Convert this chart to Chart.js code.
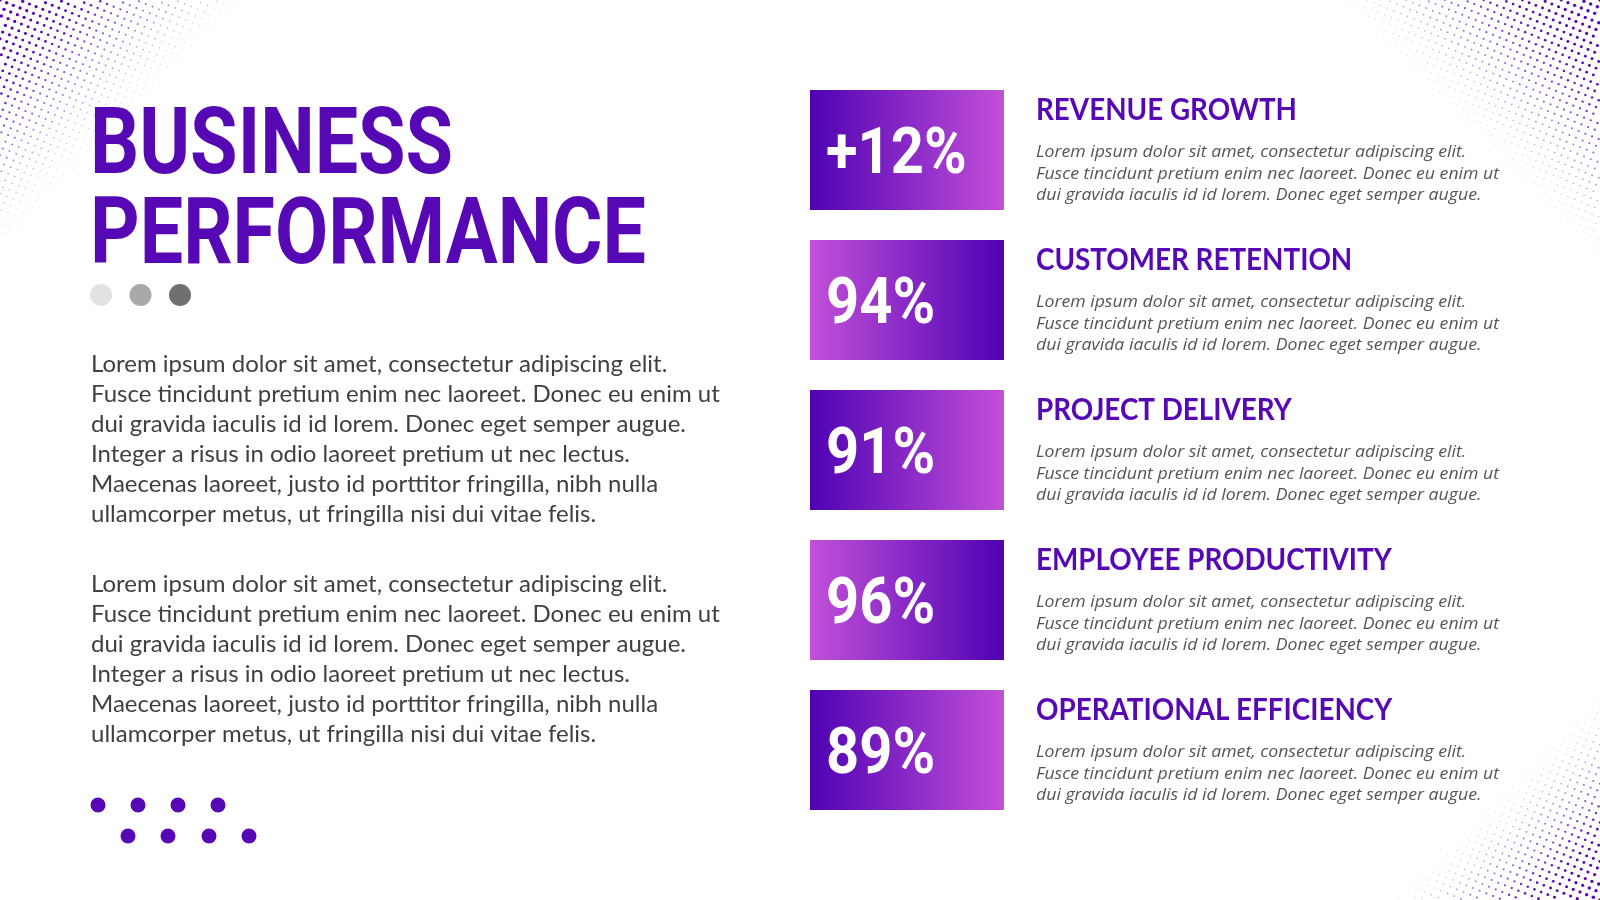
<!DOCTYPE html>
<html>
<head>
<meta charset="utf-8">
<title>Business Performance</title>
<script src="https://cdn.jsdelivr.net/npm/chart.js@4.4.1/dist/chart.umd.min.js"></script>
<style>
    html, body { margin: 0; padding: 0; background: #ffffff; }
    #wrap { width: 1600px; height: 900px; position: relative; }
</style>
</head>
<body>
<div id="wrap"><canvas id="perfChart"></canvas></div>
<script>
// data
const categories = ['REVENUE GROWTH', 'CUSTOMER RETENTION', 'PROJECT DELIVERY', 'EMPLOYEE PRODUCTIVITY', 'OPERATIONAL EFFICIENCY'];
const values = [12, 94, 91, 96, 89];
const valuePrefix = ['+', '', '', '', ''];
const blurbLines = [
    'Lorem ipsum dolor sit amet, consectetur adipiscing elit.',
    'Fusce tincidunt pretium enim nec laoreet. Donec eu enim ut',
    'dui gravida iaculis id id lorem. Donec eget semper augue.'
];
const bodyLines = [
    'Lorem ipsum dolor sit amet, consectetur adipiscing elit.',
    'Fusce tincidunt pretium enim nec laoreet. Donec eu enim ut',
    'dui gravida iaculis id id lorem. Donec eget semper augue.',
    'Integer a risus in odio laoreet pretium ut nec lectus.',
    'Maecenas laoreet, justo id porttitor fringilla, nibh nulla',
    'ullamcorper metus, ut fringilla nisi dui vitae felis.'
];
const titleLines = ['BUSINESS', 'PERFORMANCE'];

const PURPLE = '#5608b4';
const DARK = '#4f02b3';
const LIGHT = '#c250d9';

function tileGradient(ctx) {
    const chart = ctx.chart;
    const area = chart.chartArea;
    if (!area) return DARK;
    const g = chart.ctx.createLinearGradient(area.left, 0, area.right, 0);
    if (ctx.dataIndex % 2 === 0) {
        g.addColorStop(0, DARK);
        g.addColorStop(1, LIGHT);
    } else {
        g.addColorStop(0, LIGHT);
        g.addColorStop(1, DARK);
    }
    return g;
}

// halftone dots in a corner on a slightly rotated grid, fading with distance
function halftone(ctx, cx, cy, reach, W, H) {
    const a = 7.2, ang = 0.38;
    const ca = Math.cos(ang), sa = Math.sin(ang);
    const n = Math.ceil(reach * 1.5 / a);
    for (let i = -n; i <= n; i++) {
        for (let j = -n; j <= n; j++) {
            const x = cx + (i * ca - j * sa) * a;
            const y = cy + (i * sa + j * ca) * a;
            if (x < 0 || y < 0 || x > W || y > H) continue;
            const d = Math.abs(x - cx) + Math.abs(y - cy);
            const t = 1 - d / reach;
            if (t <= 0) continue;
            ctx.globalAlpha = Math.min(1, 0.12 + t * 1.3);
            ctx.beginPath();
            ctx.arc(x, y, 0.45 + 1.35 * t, 0, Math.PI * 2);
            ctx.fill();
        }
    }
    ctx.globalAlpha = 1;
}

function drawScaled(ctx, text, x, y, sx) {
    ctx.save();
    ctx.translate(x, y);
    ctx.scale(sx, 1);
    ctx.fillText(text, 0, 0);
    ctx.restore();
}

const slidePlugin = {
    id: 'slide',
    beforeDraw(chart) {
        const ctx = chart.ctx;
        ctx.save();
        ctx.fillStyle = '#ffffff';
        ctx.fillRect(0, 0, chart.width, chart.height);

        ctx.fillStyle = PURPLE;
        halftone(ctx, 0, 0, 250, chart.width, chart.height);
        halftone(ctx, 1600, 0, 265, chart.width, chart.height);
        halftone(ctx, 1600, 900, 210, chart.width, chart.height);

        // title
        ctx.font = 'bold 93px Roboto';
        ctx.fillStyle = PURPLE;
        ctx.textBaseline = 'alphabetic';
        const sx = 556 / ctx.measureText(titleLines[1]).width;
        drawScaled(ctx, titleLines[0], 90, 173, sx);
        drawScaled(ctx, titleLines[1], 90, 263, sx);

        // grey dots
        ['#e2e2e2', '#a9a9a9', '#707070'].forEach(function (c, i) {
            ctx.fillStyle = c;
            ctx.beginPath();
            ctx.arc(101 + i * 39.5, 295, 11, 0, Math.PI * 2);
            ctx.fill();
        });

        // body paragraphs
        ctx.fillStyle = '#404040';
        ctx.font = '24px Lato';
        [372, 592].forEach(function (top) {
            bodyLines.forEach(function (line, k) {
                ctx.fillText(line, 91, top + k * 30);
            });
        });

        // purple dots
        ctx.fillStyle = PURPLE;
        [[98, 805], [138, 805], [178, 805], [218, 805], [128, 836], [168, 836], [209, 836], [249, 836]].forEach(function (p) {
            ctx.beginPath();
            ctx.arc(p[0], p[1], 7.5, 0, Math.PI * 2);
            ctx.fill();
        });
        ctx.restore();
    },
    afterDatasetsDraw(chart) {
        const ctx = chart.ctx;
        const yScale = chart.scales.y;
        const area = chart.chartArea;
        ctx.save();
        ctx.textBaseline = 'alphabetic';

        ctx.font = 'bold 30px Lato';
        const headScale = 261 / ctx.measureText(categories[0]).width;
        ctx.font = 'italic 16px "Open Sans"';
        const blurbScale = 463 / ctx.measureText(blurbLines[1]).width;

        categories.forEach(function (cat, i) {
            const cy = yScale.getPixelForValue(i);
            const top = cy - 60;

            // value label inside the tile
            ctx.fillStyle = '#ffffff';
            ctx.font = 'bold 65px Roboto';
            drawScaled(ctx, valuePrefix[i] + values[i] + '%', area.left + 16, cy + 23, 0.89);

            // heading and blurb to the right
            ctx.fillStyle = PURPLE;
            ctx.font = 'bold 30px Lato';
            drawScaled(ctx, cat, area.right + 32, top + 30, headScale);
            ctx.fillStyle = '#555555';
            ctx.font = 'italic 16px "Open Sans"';
            blurbLines.forEach(function (line, k) {
                drawScaled(ctx, line, area.right + 32, top + 67 + k * 21.5, blurbScale);
            });
        });
        ctx.restore();
    }
};

new Chart(document.getElementById('perfChart'), {
    type: 'bar',
    data: {
        labels: categories,
        datasets: [{
            data: values.map(function () { return [0, 1]; }),
            backgroundColor: tileGradient,
            borderWidth: 0,
            barPercentage: 1,
            categoryPercentage: 0.8
        }]
    },
    options: {
        indexAxis: 'y',
        responsive: true,
        maintainAspectRatio: false,
        animation: false,
        devicePixelRatio: 1,
        layout: {
            padding: { left: 810, right: 596, top: 75, bottom: 75 }
        },
        scales: {
            x: { display: false, min: 0, max: 1 },
            y: { display: false }
        },
        plugins: {
            legend: { display: false },
            tooltip: { enabled: false }
        }
    },
    plugins: [slidePlugin]
});
</script>
</body>
</html>
